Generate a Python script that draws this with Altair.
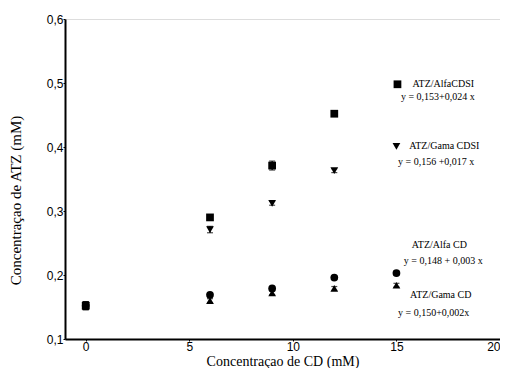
import altair as alt
import pandas as pd

# Data
x_cdsi = [0, 6, 9, 12]
x_cd = [0, 6, 9, 12, 15]
alfa_cdsi = [0.152, 0.290, 0.371, 0.452]
gama_cdsi = [0.152, 0.271, 0.312, 0.363]
alfa_cd = [0.152, 0.169, 0.179, 0.196, 0.203]
gama_cd = [0.152, 0.160, 0.172, 0.179, 0.184]
err_alfa_cdsi = [0.006, 0.003, 0.007, 0.003]
err_gama_cdsi = [0.006, 0.005, 0.003, 0.003]
err_alfa_cd = [0.006, 0.003, 0.003, 0.003, 0.003]
err_gama_cd = [0.006, 0.003, 0.003, 0.003, 0.003]

series_names = ["ATZ/AlfaCDSI", "ATZ/Gama CDSI", "ATZ/Alfa CD", "ATZ/Gama CD"]
series_shapes = ["square", "triangle-down", "circle", "triangle-up"]

rows = []
for name, xs, ys, es in [
    (series_names[0], x_cdsi, alfa_cdsi, err_alfa_cdsi),
    (series_names[1], x_cdsi, gama_cdsi, err_gama_cdsi),
    (series_names[2], x_cd, alfa_cd, err_alfa_cd),
    (series_names[3], x_cd, gama_cd, err_gama_cd),
]:
    for xv, yv, ev in zip(xs, ys, es):
        rows.append({"x": xv, "y": yv, "lo": yv - ev, "hi": yv + ev, "s": name})
df = pd.DataFrame(rows)

# Annotation texts (placed in data coordinates)
ann_text = ["ATZ/AlfaCDSI", "y = 0,153+0,024 x", "ATZ/Gama CDSI", "y = 0,156 +0,017 x",
            "ATZ/Alfa CD", "y = 0,148 + 0,003 x", "ATZ/Gama CD", "y = 0,150+0,002x"]
ann_x = [17.26, 17.0, 17.31, 16.92, 17.07, 17.26, 17.14, 16.8]
ann_y = [0.498, 0.478, 0.401, 0.376, 0.247, 0.222, 0.168, 0.140]
ann = pd.DataFrame({"t": ann_text, "x": ann_x, "y": ann_y})

leg_s = ["ATZ/AlfaCDSI", "ATZ/Gama CDSI"]
leg_x = [15.05, 15.0]
leg_y = [0.498, 0.401]
leg = pd.DataFrame({"s": leg_s, "x": leg_x, "y": leg_y})

xscale = alt.Scale(domain=[-1, 20], nice=False, zero=False, padding=0)
yscale = alt.Scale(domain=[0.1, 0.6], nice=False, zero=False, padding=0)
shape_scale = alt.Scale(domain=series_names, range=series_shapes)

xax = alt.Axis(values=[0, 5, 10, 15, 20], format="d", grid=False, tickSize=2,
               title="Concentraçao de CD (mM)", labelFont="Liberation Sans",
               labelFontSize=12, labelColor="black", labelPadding=0,
               titleFont="Liberation Serif", titleFontSize=14, titleFontWeight="normal",
               titleColor="black", titleY=26, titleBaseline="alphabetic",
               domainColor="black", domainWidth=2,
               tickColor="black", labelFlush=True, labelOverlap=False)
yax = alt.Axis(values=[0.1, 0.2, 0.3, 0.4, 0.5, 0.6], labelExpr="replace(format(datum.value, '.1f'), '.', ',')",
               grid=False, tickSize=2, title="Concentraçao de ATZ (mM)",
               labelFont="Liberation Sans", labelFontSize=12, labelColor="black", labelPadding=0,
               titleFont="Liberation Serif", titleFontSize=15, titleFontWeight="normal",
               titleColor="black", titleX=-50, titleY=181, titleAngle=270,
               titleAlign="center", titleBaseline="middle",
               domainColor="black", domainWidth=2,
               tickColor="black", labelFlush=False, labelOverlap=False)

base = alt.Chart(df)

err = base.mark_rule(color="black", strokeWidth=1.2).encode(
    x=alt.X("x:Q", scale=xscale, axis=xax),
    y=alt.Y("lo:Q", scale=yscale, axis=yax),
    y2="hi:Q",
)
caps_lo = base.mark_tick(color="black", size=6, thickness=1.2, orient="horizontal").encode(
    x="x:Q", y="lo:Q")
caps_hi = base.mark_tick(color="black", size=6, thickness=1.2, orient="horizontal").encode(
    x="x:Q", y="hi:Q")

pts = base.mark_point(filled=True, color="black", opacity=1, size=60).encode(
    x="x:Q",
    y="y:Q",
    shape=alt.Shape("s:N", scale=shape_scale, legend=None),
)

leg_pts = alt.Chart(leg).mark_point(filled=True, color="black", opacity=1, size=60).encode(
    x="x:Q", y="y:Q", shape=alt.Shape("s:N", scale=shape_scale, legend=None))

texts = alt.Chart(ann).mark_text(font="Liberation Serif", fontSize=10, color="black",
                                 align="center", baseline="middle").encode(
    x="x:Q", y="y:Q", text="t:N")

chart = alt.layer(err, caps_lo, caps_hi, pts, leg_pts, texts).properties(
    width=435, height=320,
    autosize=alt.AutoSizeParams(type="none"),
    padding={"left": 57, "top": 11, "right": 0, "bottom": 29},
).configure_view(stroke="#444", strokeWidth=1).configure(background="white")

chart.save("out.html", embed_options={"renderer": "svg", "actions": False})
